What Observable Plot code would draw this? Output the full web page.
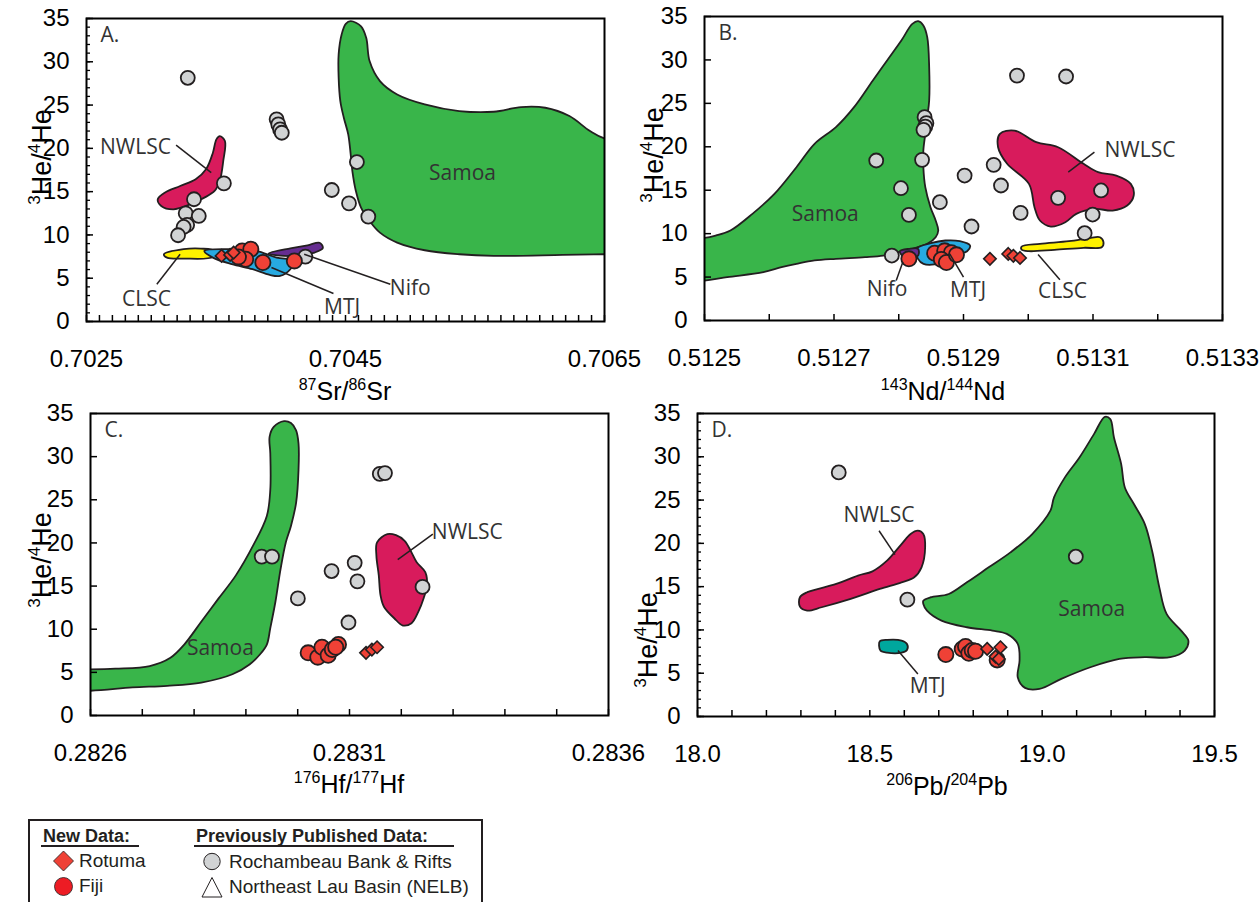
<!DOCTYPE html>
<html><head><meta charset="utf-8">
<script src="https://cdn.jsdelivr.net/npm/d3@7"></script>
<script src="https://cdn.jsdelivr.net/npm/@observablehq/plot@0.6"></script>
<style>
body{margin:0;background:#fff;}
#root{position:relative;width:1260px;height:902px;overflow:hidden;background:#fff;}
.panel{position:absolute;}
#overlay{position:absolute;left:0;top:0;pointer-events:none;}
</style></head>
<body><div id="root"></div>
<script>
// ---------------- Panel A: 87Sr/86Sr ----------------
const aGray = [[0.703282,28.15],[0.703968,23.35],[0.703981,22.77],[0.703995,22.19],[0.704008,21.8],
  [0.704588,18.42],[0.704394,15.19],[0.704527,13.65],[0.704676,12.12],
  [0.703561,15.96],[0.70333,14.12],[0.703266,12.5],[0.703367,12.19],[0.703277,11.15],[0.70325,10.92],[0.703207,9.96],
  [0.70419,7.5]];
const aFiji = [[0.703702,8.15],[0.703769,8.35],[0.703729,7.19],[0.703673,7.46],[0.703862,6.81],[0.704105,7.0]];
const aRotuma = [[0.703543,7.58],[0.703609,7.69],[0.703636,7.96]];
const aSamoa = [[0.70454,34.69],[0.70462,34.1],[0.70466,32.77],[0.704686,30.08],[0.704766,27.77],[0.704899,26.23],[0.705112,25.08],[0.705378,24.31],[0.705644,24.23],[0.705856,24.77],[0.706043,24.69],[0.706229,23.73],[0.706388,22.0],[0.7065,21.15],[0.7068,20.5],[0.7068,7.8],[0.7065,7.77],[0.706176,7.69],[0.705644,7.58],[0.705378,7.77],[0.705112,8.23],[0.704899,9.12],[0.704766,10.27],[0.704686,11.62],[0.70462,13.15],[0.70458,15.08],[0.704553,17.38],[0.70454,19.31],[0.704521,21.62],[0.704487,23.54],[0.70446,25.46],[0.704447,28.15],[0.704447,30.85],[0.70447,33.15],[0.704502,34.38]];
const aNwlsc = [[0.703529,21.42],[0.703569,20.85],[0.703556,18.54],[0.703529,16.23],[0.703489,15.08],[0.70341,14.31],[0.703303,13.54],[0.70317,12.96],[0.703077,13.35],[0.70305,14.12],[0.703104,14.88],[0.703223,15.65],[0.703343,16.42],[0.703423,17.58],[0.703476,19.5],[0.703503,21.04]];
const aClsc = [[0.703098,7.77],[0.70325,8.35],[0.703383,8.42],[0.703489,8.15],[0.703476,7.46],[0.70325,7.27],[0.703122,7.38]];
const aMtj = [[0.70341,8.15],[0.703596,8.35],[0.703809,8.15],[0.703968,7.38],[0.704101,7.0],[0.704074,6.04],[0.703995,5.27],[0.703915,5.38],[0.703782,6.04],[0.703622,6.62],[0.703476,7.38]];
const aNifo = [[0.703907,7.85],[0.704074,8.45],[0.704207,8.8],[0.7043,9.1],[0.704325,8.5],[0.704261,7.96],[0.704181,7.7],[0.704074,7.55]];
const aLabels = [{x:0.702878,y:20.08,t:"NWLSC"},{x:0.705404,y:17.1,t:"Samoa"},{x:0.702963,y:2.58,t:"CLSC"},{x:0.704474,y:1.7,t:"MTJ"},{x:0.705,y:3.85,t:"Nifo"}];
const aLeaders = [[0.703192,20.38,0.703463,17.19],[0.703043,4.31,0.703223,7.77],[0.704407,3.23,0.703928,6.23],[0.704846,4.31,0.704181,7.77]];
const aXLabels = [0.7025,0.7045,0.7065];

// ---------------- Panel B: 143Nd/144Nd ----------------
const bGray = [[0.5129826,28.2],[0.5130584,28.09],[0.5128399,23.41],[0.5128427,22.72],[0.512841,22.33],[0.5128382,21.95],[0.5127652,18.42],[0.512836,18.5],[0.5129466,17.92],[0.5129017,16.69],[0.5129579,15.54],[0.5128034,15.23],[0.5128635,13.62],[0.5128157,12.16],[0.5129882,12.39],[0.5130461,14.12],[0.5131124,14.97],[0.5130994,12.2],[0.5130871,10.05],[0.5129124,10.82],[0.5127893,7.48]];
const bFiji = [[0.5128157,7.1],[0.5128555,7.74],[0.512871,8.02],[0.5128813,7.8],[0.5128658,7.03],[0.5128736,6.68],[0.5128891,7.56]];
const bRotuma = [[0.5129408,7.1],[0.5129691,7.66],[0.512977,7.45],[0.5129873,7.2]];
const bSamoa = [[0.5125,9.52],[0.512518,9.79],[0.51254,10.36],[0.512574,12.28],[0.512608,14.58],[0.512642,17.65],[0.51267,20.34],[0.512703,22.26],[0.512731,24.56],[0.51276,27.63],[0.512782,29.93],[0.512804,32.23],[0.512821,34.15],[0.51283,34.46],[0.512838,33.96],[0.512844,32.62],[0.512847,29.16],[0.512847,25.33],[0.512844,23.41],[0.512841,21.49],[0.512838,19.57],[0.512838,17.65],[0.512841,15.35],[0.512849,13.05],[0.512857,11.51],[0.512861,10.36],[0.512857,9.59],[0.512844,8.83],[0.512821,8.25],[0.512799,7.87],[0.512776,7.48],[0.512748,7.29],[0.512703,7.1],[0.51267,6.91],[0.512642,6.52],[0.512619,6.14],[0.512591,5.56],[0.512535,4.99],[0.5125,4.6],[0.5123,4.3],[0.5123,9.4]];
const bNwlsc = [[0.5129562,21.49],[0.5129787,21.87],[0.5130124,20.53],[0.5130461,19.95],[0.5130854,18.04],[0.5131079,17.08],[0.513136,16.69],[0.5131584,15.73],[0.5131629,14.39],[0.5131528,13.24],[0.5131303,12.66],[0.5131022,12.85],[0.5130742,12.28],[0.5130573,11.32],[0.5130348,10.82],[0.513018,11.51],[0.5130096,13.05],[0.5130011,15.73],[0.5129674,18.04],[0.5129534,19.95]];
const bClsc = [[0.5129899,8.52],[0.513018,8.83],[0.5130629,9.13],[0.5130966,9.52],[0.5131107,9.59],[0.5131162,9.02],[0.5131135,8.44],[0.5130854,8.37],[0.5130404,8.14],[0.5130011,7.98],[0.5129899,8.14]];
const bMtj = [[0.512827,8.25],[0.5128494,8.9],[0.5128719,9.21],[0.5128944,9.13],[0.5129101,8.63],[0.5129056,7.98],[0.5128888,7.6],[0.5128719,6.83],[0.5128551,6.45],[0.5128382,6.52],[0.5128298,7.1]];
const bNifo = [[0.5128017,7.98],[0.5128157,8.25],[0.5128298,8.25],[0.5128298,7.48],[0.5128088,7.29]];
const bLabels = [{x:0.5126865,y:12.2,t:"Samoa"},{x:0.5131725,y:19.65,t:"NWLSC"},{x:0.512782,y:3.65,t:"Nifo"},{x:0.5129071,y:3.45,t:"MTJ"},{x:0.5130529,y:3.38,t:"CLSC"}];
const bLeaders = [[0.5131022,19.38,0.5130618,17.08],[0.5127961,4.6,0.5128062,6.72],[0.5129,4.99,0.5128787,7.67],[0.5130489,4.68,0.5130152,7.6]];
const bXLabels = [0.5125,0.5127,0.5129,0.5131,0.5133];

// ---------------- Panel C: 176Hf/177Hf ----------------
const cGray = [[0.2831585,28.0],[0.2831685,28.09],[0.2829305,18.42],[0.2829504,18.42],[0.28311,17.69],[0.2830654,16.74],[0.2831153,15.55],[0.2830003,13.57],[0.283241,14.9],[0.283098,10.78]];
const cFiji = [[0.2830202,7.26],[0.2830388,6.76],[0.2830468,7.91],[0.2830588,6.99],[0.2830668,7.64],[0.2830787,8.22],[0.2830734,7.91]];
const cRotuma = [[0.2831319,7.26],[0.2831432,7.64],[0.2831532,7.91]];
const cSamoa = [[0.2826,5.35],[0.2826479,5.43],[0.2827144,5.73],[0.2827543,6.69],[0.2827809,8.22],[0.2828141,10.89],[0.2828473,13.57],[0.2828806,16.24],[0.2829138,19.68],[0.2829404,23.12],[0.2829471,26.18],[0.2829471,30.38],[0.2829457,32.29],[0.2829537,33.44],[0.2829737,34.12],[0.282987,33.89],[0.2829969,33.05],[0.2830016,31.52],[0.2830016,28.47],[0.2829969,24.65],[0.282987,21.97],[0.282977,20.06],[0.282967,17.0],[0.282957,13.18],[0.2829471,10.13],[0.2829404,8.22],[0.282927,7.07],[0.282907,5.92],[0.282874,4.78],[0.282814,3.82],[0.282748,3.44],[0.282681,3.25],[0.2826,2.87],[0.2825,2.8],[0.2825,5.35]];
const cNwlsc = [[0.2831532,20.06],[0.2831731,21.02],[0.2831898,20.9],[0.2832064,20.25],[0.2832197,18.91],[0.2832297,17.77],[0.2832463,16.62],[0.2832496,15.09],[0.283243,13.57],[0.283233,12.04],[0.2832197,10.7],[0.2832031,10.43],[0.2831864,11.27],[0.2831665,12.61],[0.2831598,13.95],[0.2831565,16.24],[0.2831519,18.53]];
const cLabels = [{x:0.2828507,y:7.83,t:"Samoa"},{x:0.2833274,y:21.21,t:"NWLSC"}];
const cLeaders = [[0.2832609,21.02,0.2831931,18.07]];
const cXLabels = [0.2826,0.2831,0.2836];

// ---------------- Panel D: 206Pb/204Pb ----------------
const dGray = [[18.4098,28.19],[19.0976,18.46],[18.6089,13.5]];
const dFiji = [[18.7205,7.15],[18.768,7.81],[18.7777,8.08],[18.7873,7.31],[18.797,7.62],[18.8067,7.54],[18.8694,6.54]];
const dRotuma = [[18.8404,7.81],[18.8647,6.92],[18.879,8.0],[18.8743,6.65]];
const dSamoa = [[18.6552,13.38],[18.6763,13.77],[18.729,14.15],[18.7816,15.5],[18.8448,17.23],[18.908,18.96],[18.9712,21.08],[19.0239,23.77],[19.0344,25.31],[19.066,27.62],[19.1082,29.92],[19.1503,32.62],[19.1819,34.62],[19.1977,34.35],[19.2083,32.23],[19.2293,29.15],[19.2399,26.46],[19.2662,24.54],[19.2978,22.23],[19.3189,19.15],[19.3399,14.92],[19.361,11.85],[19.4031,9.92],[19.4242,8.77],[19.4137,7.62],[19.3715,6.85],[19.2978,6.85],[19.2241,6.65],[19.1398,5.69],[19.0555,4.35],[18.9923,3.19],[18.9502,3.31],[18.9291,4.54],[18.9344,6.46],[18.9291,8.38],[18.8975,9.54],[18.8554,9.92],[18.7816,10.31],[18.7079,11.08],[18.6658,12.23],[18.6552,13.0]];
const dNwlsc = [[18.2971,13.77],[18.3181,14.35],[18.4024,15.31],[18.4656,16.27],[18.5077,16.77],[18.5499,18.0],[18.592,19.92],[18.6183,21.08],[18.6394,21.46],[18.6552,21.08],[18.6605,19.54],[18.65,17.23],[18.6289,16.08],[18.592,15.5],[18.5288,14.73],[18.4445,13.58],[18.3603,12.62],[18.3181,12.23],[18.2971,12.69]];
const dMtj = [[18.5288,8.69],[18.5499,8.85],[18.592,8.77],[18.6078,8.38],[18.6078,7.69],[18.592,7.38],[18.5499,7.38],[18.5309,7.62],[18.5267,8.19]];
const dLabels = [{x:18.5267,y:23.19,t:"NWLSC"},{x:19.144,y:12.42,t:"Samoa"},{x:18.6679,y:3.46,t:"MTJ"}];
const dLeaders = [[18.5267,21.46,18.573,18.69],[18.6394,4.92,18.5815,7.62]];
const dXLabels = [18.0,18.5,19.0,19.5];

const yLabels = [0,5,10,15,20,25,30,35];

// ---------------- styles ----------------
const INK = "#231f20", GRAY = "#d1d3d4", RED = "#ef4136";
const C_SAMOA = "#39b54a", C_NWLSC = "#d81b5c", C_CLSC = "#fff200", C_MTJ = "#27aae1", C_NIFO = "#662d91", C_MTJD = "#00a79d";
const LABEL_FONT = "'Open Sans', 'Noto Sans', sans-serif";
const TICK_FONT = "'Liberation Sans', Arial, sans-serif";

function panel(c) {
  const X = d => d[0], Y = d => d[1];
  const fw = c.width - c.ml - c.mr, fh = c.height - c.mt - c.mb;
  const marks = [];
  for (const [pts, col] of c.polys) {
    marks.push(Plot.line(pts, {x: X, y: Y, curve: "catmull-rom-closed", fill: col, stroke: INK, strokeWidth: 1.8, clip: true}));
  }
  marks.push(Plot.dot(c.gray, {x: X, y: Y, r: 7, fill: GRAY, stroke: INK, strokeWidth: 1.8}));
  marks.push(Plot.dot(c.fiji, {x: X, y: Y, r: 7.6, fill: RED, stroke: INK, strokeWidth: 1.8}));
  marks.push(Plot.dot(c.rotuma, {x: X, y: Y, r: 5.6, symbol: "diamond2", fill: RED, stroke: INK, strokeWidth: 1.6}));
  marks.push(Plot.link(c.leaders, {x1: d => d[0], y1: d => d[1], x2: d => d[2], y2: d => d[3], stroke: INK, strokeWidth: 1.5}));
  marks.push(Plot.text(c.labels, {x: "x", y: "y", text: "t", fontFamily: LABEL_FONT, fontSize: 21, fill: "#333"}));
  marks.push(Plot.text([c.letter], {frameAnchor: "top-left", dx: 14, dy: 9, textAnchor: "start", lineAnchor: "top", fontFamily: LABEL_FONT, fontSize: 21, fill: "#333"}));
  // inward ticks
  marks.push(Plot.tickX(c.xTicks, {x: d => d, insetTop: fh - 6, stroke: "#000", strokeWidth: 1.5}));
  if (c.yMinor) marks.push(Plot.tickY(c.yMinor, {y: d => d, insetRight: fw - 4, stroke: "#000", strokeWidth: 1.3}));
  marks.push(Plot.tickY(yLabels, {y: d => d, insetRight: fw - 7, stroke: "#000", strokeWidth: 1.5}));
  // tick labels
  marks.push(Plot.axisX({ticks: c.xLabels, tickSize: 0, tickPadding: 28, tickFormat: c.fmt, fontSize: 24, fontFamily: TICK_FONT, label: null}));
  marks.push(Plot.axisY({ticks: yLabels, tickSize: 0, tickPadding: 17, tickFormat: d3.format("d"), fontSize: 24, fontFamily: TICK_FONT, label: null}));
  marks.push(Plot.frame({stroke: "#000", strokeWidth: 2}));
  const svg = Plot.plot({
    width: c.width, height: c.height,
    marginLeft: c.ml, marginRight: c.mr, marginTop: c.mt, marginBottom: c.mb,
    x: {domain: c.xDomain}, y: {domain: [0, 35]},
    style: {color: "#000", background: "transparent", overflow: "visible"},
    marks
  });
  svg.classList.add("panel");
  svg.style.left = c.left + "px";
  svg.style.top = c.top + "px";
  return svg;
}

const root = document.getElementById("root");
const d4 = d3.format(".4f"), d1 = d3.format(".1f");
root.appendChild(panel({left: 0, top: 0, width: 630, height: 400, ml: 86, mr: 26, mt: 18, mb: 79,
  xDomain: [0.7025, 0.7065], xTicks: d3.range(41).map(i => 0.7025 + i * 0.0001), xLabels: aXLabels, fmt: d4,
  yMinor: d3.range(36), letter: "A.",
  polys: [[aSamoa, C_SAMOA], [aNwlsc, C_NWLSC], [aClsc, C_CLSC], [aMtj, C_MTJ], [aNifo, C_NIFO]],
  gray: aGray, fiji: aFiji, rotuma: aRotuma, labels: aLabels, leaders: aLeaders}));
root.appendChild(panel({left: 630, top: 0, width: 630, height: 400, ml: 74, mr: 38, mt: 16, mb: 80,
  xDomain: [0.5125, 0.5133], xTicks: d3.range(9).map(i => 0.5125 + i * 0.0001), xLabels: bXLabels, fmt: d4,
  yMinor: null, letter: "B.",
  polys: [[bSamoa, C_SAMOA], [bNwlsc, C_NWLSC], [bClsc, C_CLSC], [bMtj, C_MTJ], [bNifo, C_NIFO]],
  gray: bGray, fiji: bFiji, rotuma: bRotuma, labels: bLabels, leaders: bLeaders}));
root.appendChild(panel({left: 0, top: 395, width: 630, height: 400, ml: 90, mr: 22, mt: 18, mb: 80,
  xDomain: [0.2826, 0.2836], xTicks: d3.range(11).map(i => 0.2826 + i * 0.0001), xLabels: cXLabels, fmt: d4,
  yMinor: null, letter: "C.",
  polys: [[cSamoa, C_SAMOA], [cNwlsc, C_NWLSC]],
  gray: cGray, fiji: cFiji, rotuma: cRotuma, labels: cLabels, leaders: cLeaders}));
root.appendChild(panel({left: 630, top: 395, width: 630, height: 400, ml: 67, mr: 46, mt: 18, mb: 79,
  xDomain: [18.0, 19.5], xTicks: d3.range(16).map(i => 18 + i * 0.1), xLabels: dXLabels, fmt: d1,
  yMinor: d3.range(36), letter: "D.",
  polys: [[dSamoa, C_SAMOA], [dNwlsc, C_NWLSC], [dMtj, C_MTJD]],
  gray: dGray, fiji: dFiji, rotuma: dRotuma, labels: dLabels, leaders: dLeaders}));

// ---------------- overlay: axis titles & legend ----------------
const NS = "http://www.w3.org/2000/svg";
const ov = document.createElementNS(NS, "svg");
ov.setAttribute("id", "overlay"); ov.setAttribute("width", 1260); ov.setAttribute("height", 902);
root.appendChild(ov);
function el(tag, attrs, parent = ov) { const e = document.createElementNS(NS, tag); for (const k in attrs) e.setAttribute(k, attrs[k]); parent.appendChild(e); return e; }
function supTitle(parts, attrs, fs) {
  const sfs = Math.round(fs * 0.64), rise = Math.round(fs * 0.4);
  const t = el("text", Object.assign({"font-family": TICK_FONT, "font-size": fs, fill: "#000", "text-anchor": "middle"}, attrs));
  let raised = false;
  for (const [s, sup] of parts) {
    const ts = el("tspan", {}, t);
    if (sup) { ts.setAttribute("font-size", sfs); ts.setAttribute("dy", raised ? 0 : -rise); raised = true; }
    else { ts.setAttribute("dy", raised ? rise : 0); raised = false; }
    ts.textContent = s;
  }
  return t;
}
const xTitles = [
  {parts: [["87", 1], ["Sr/", 0], ["86", 1], ["Sr", 0]], x: 345, y: 400},
  {parts: [["143", 1], ["Nd/", 0], ["144", 1], ["Nd", 0]], x: 943, y: 400},
  {parts: [["176", 1], ["Hf/", 0], ["177", 1], ["Hf", 0]], x: 349, y: 793},
  {parts: [["206", 1], ["Pb/", 0], ["204", 1], ["Pb", 0]], x: 947, y: 795}
];
for (const t of xTitles) supTitle(t.parts, {x: t.x, y: t.y}, 25);
const yTitle = [["3", 1], ["He/", 0], ["4", 1], ["He", 0]];
for (const [x, y] of [[51, 157], [663, 155], [51, 560], [657, 640]]) supTitle(yTitle, {transform: `translate(${x},${y}) rotate(-90)`}, 27);

// legend
const LG = {"font-family": TICK_FONT, fill: INK};
el("rect", {x: 29, y: 820, width: 453, height: 100, fill: "none", stroke: INK, "stroke-width": 2});
const newT = el("text", Object.assign({x: 43, y: 842, "font-size": 18, "font-weight": "bold"}, LG)); newT.textContent = "New Data:";
el("line", {x1: 41, x2: 139, y1: 846, y2: 846, stroke: INK, "stroke-width": 1.8});
const prevT = el("text", Object.assign({x: 196, y: 842, "font-size": 18, "font-weight": "bold"}, LG)); prevT.textContent = "Previously Published Data:";
el("line", {x1: 194, x2: 454, y1: 846, y2: 846, stroke: INK, "stroke-width": 1.8});
el("path", {d: "M63.5,851 L73.5,861 L63.5,871 L53.5,861 Z", fill: "#ef4136", stroke: INK, "stroke-width": 0.8});
el("circle", {cx: 63.5, cy: 886.5, r: 9, fill: "#ed1c24", stroke: INK, "stroke-width": 0.8});
el("circle", {cx: 212, cy: 861.5, r: 8.2, fill: GRAY, stroke: INK, "stroke-width": 1});
el("path", {d: "M212,877.5 L222,897 L202,897 Z", fill: "#fff", stroke: INK, "stroke-width": 1});
const legendTexts = [["Rotuma", 79, 867], ["Fiji", 79, 892], ["Rochambeau Bank & Rifts", 229, 868], ["Northeast Lau Basin (NELB)", 229, 893]];
for (const [s, x, y] of legendTexts) { const t = el("text", Object.assign({x, y, "font-size": 19}, LG)); t.textContent = s; }
</script>
</body></html>
